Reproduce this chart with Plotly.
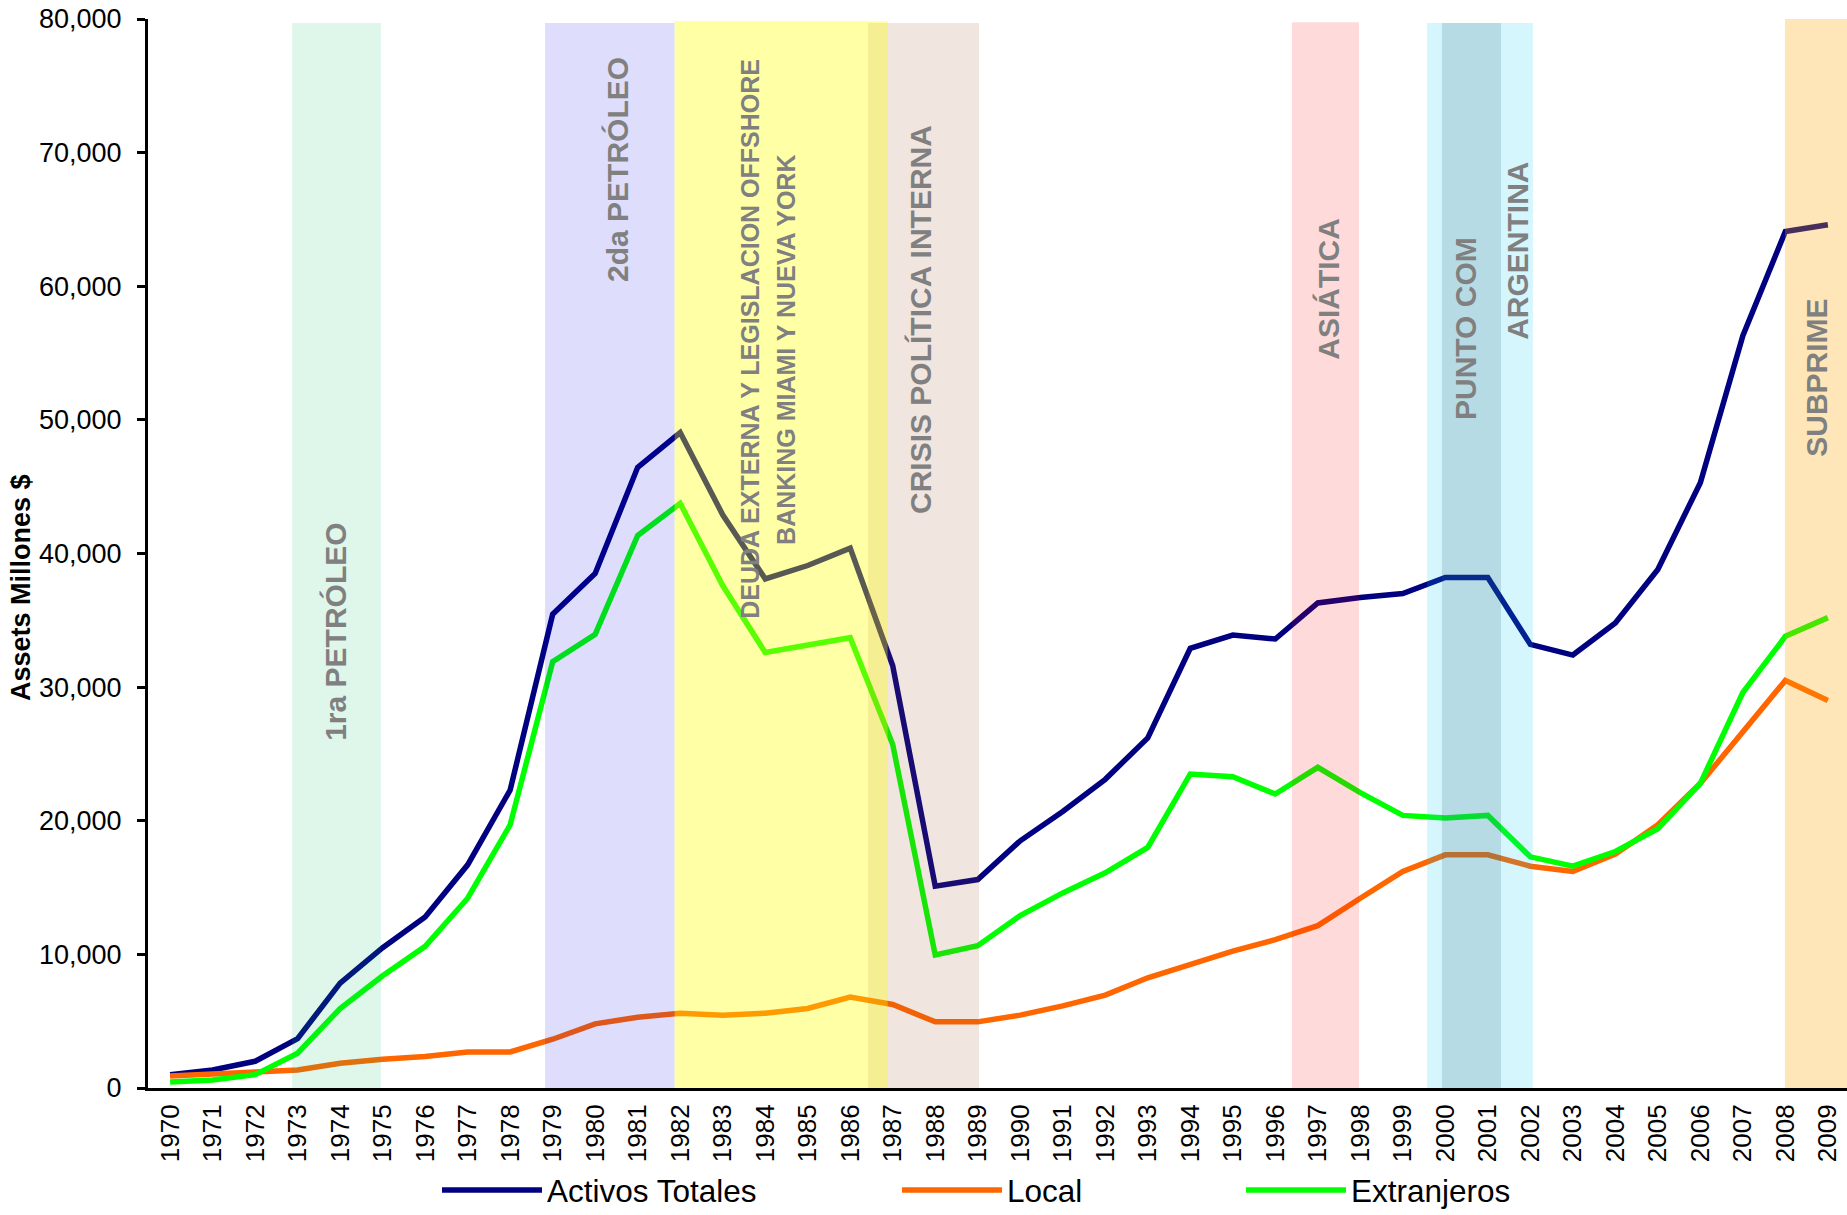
import plotly.graph_objects as go

# ---------------- data ----------------
years = list(range(1970, 2010))

activos_totales = [1000, 1350, 2000, 3700, 7850, 10500, 12800, 16700, 22300, 35450,
                   38500, 46450, 49050, 42900, 38100, 39100, 40400, 31600, 15100, 15600,
                   18500, 20700, 23100, 26200, 32900, 33900, 33600, 36300, 36700, 37000,
                   38200, 38200, 33200, 32400, 34800, 38800, 45300, 56300, 64100, 64600]

local = [900, 1000, 1200, 1350, 1850, 2150, 2350, 2700, 2700, 3650,
         4800, 5300, 5600, 5450, 5600, 5950, 6800, 6250, 4950, 4950,
         5450, 6150, 6950, 8250, 9300, 10250, 11100, 12150, 14200, 16200,
         17450, 17450, 16600, 16200, 17500, 19700, 22800, 26600, 30500, 29000]

extranjeros = [450, 600, 1000, 2600, 5950, 8400, 10600, 14200, 19700, 31900,
               33950, 41350, 43750, 37600, 32600, 33200, 33700, 25700, 9950, 10650,
               12900, 14600, 16100, 18000, 23500, 23300, 22000, 24000, 22100, 20400,
               20200, 20400, 17300, 16600, 17700, 19400, 22800, 29600, 33800, 35200]

series_names = ["Activos Totales", "Local", "Extranjeros"]
series_values = [activos_totales, local, extranjeros]
series_colors = ["#000080", "#FF6600", "#00FF00"]

# crisis episodes: (start year, end year, top value, fill)
band_x0 = [1972.87, 1978.82, 1986.42, 1981.87, 1996.39, 1999.57, 1999.92, 2007.99]
band_x1 = [1974.96, 1981.87, 1989.03, 1986.88, 1997.97, 2002.06, 2001.31, 2009.6]
band_top = [79700, 79700, 79700, 79850, 79750, 79700, 79700, 80000]
band_fill = ["rgba(9,186,101,0.13)", "rgba(0,0,230,0.13)", "rgba(160,82,45,0.15)",
             "rgba(255,255,0,0.35)", "rgba(255,0,0,0.145)", "rgba(0,200,240,0.17)",
             "rgba(40,90,110,0.17)", "rgba(255,165,0,0.28)"]

episode_labels = ["1ra PETRÓLEO", "2da PETRÓLEO", "DEUDA EXTERNA Y LEGISLACION OFFSHORE",
                  "BANKING MIAMI Y NUEVA YORK", "CRISIS POLÍTICA INTERNA", "ASIÁTICA",
                  "PUNTO COM", "ARGENTINA", "SUBPRIME"]
label_x = [1973.90, 1980.54, 1983.64, 1984.49, 1987.67, 1997.26, 2000.49, 2001.71, 2008.74]
label_y = [34130, 68710, 56060, 55240, 57490, 59800, 56810, 62650, 53140]
label_size = [30, 30, 25, 25, 30, 30, 30, 30, 30]

y_title = "Assets Millones $"

# ---------------- figure ----------------
W, H = 1847, 1215
ML, MR, MT, MB = 148, 0, 19, 127
FONT = "Arial, 'Liberation Sans', sans-serif"
plot_w = W - ML - MR
plot_h = H - MT - MB

legend_ids = ["legend", "legend2", "legend3"]
legend_px = [437, 897, 1241]   # left edge of each legend entry, in pixels

fig = go.Figure()
for name, vals, col, lid in zip(series_names, series_values, series_colors, legend_ids):
    fig.add_trace(go.Scatter(x=years, y=vals, name=name, mode="lines",
                             line=dict(color=col, width=5.5), legend=lid))

for x0, x1, top, fill in zip(band_x0, band_x1, band_top, band_fill):
    fig.add_shape(type="rect", xref="x", yref="y", x0=x0, x1=x1, y0=0, y1=top,
                  fillcolor=fill, line=dict(width=0), layer="above")

for txt, lx, ly, fs in zip(episode_labels, label_x, label_y, label_size):
    fig.add_annotation(x=lx, y=ly, xref="x", yref="y", text=f"<b>{txt}</b>",
                       textangle=-90, showarrow=False,
                       font=dict(family=FONT, size=fs, color="rgb(128,128,128)"))

fig.add_annotation(xref="paper", yref="paper", x=(21 - ML) / plot_w, y=(1088 - 588) / plot_h,
                   text=f"<b>{y_title}</b>", textangle=-90, showarrow=False,
                   xanchor="center", yanchor="middle",
                   font=dict(family=FONT, size=27, color="black"))

legend_common = dict(orientation="h", xanchor="left", yanchor="bottom",
                     y=(1088 - 1217) / plot_h, borderwidth=0,
                     font=dict(family=FONT, size=31.5, color="black"),
                     itemwidth=100, bgcolor="rgba(0,0,0,0)")
legend_layout = {lid: dict(legend_common, x=(px - ML) / plot_w)
                 for lid, px in zip(legend_ids, legend_px)}

fig.update_layout(
    width=W, height=H,
    margin=dict(l=ML, r=MR, t=MT, b=MB, pad=0, autoexpand=False),
    paper_bgcolor="white", plot_bgcolor="white",
    font=dict(family=FONT, color="black"),
    showlegend=True,
    xaxis=dict(range=[1969.48, 2009.45], tickmode="array", tickvals=years,
               ticktext=[str(y) for y in years], tickangle=-90, automargin=False,
               showgrid=False, zeroline=False, showline=True, linecolor="black",
               linewidth=3, ticks="", ticklabelstandoff=3,
               tickfont=dict(family=FONT, size=26, color="black")),
    yaxis=dict(range=[0, 80000], tickvals=list(range(0, 80001, 10000)),
               tickformat=",", showgrid=False, zeroline=False, showline=True,
               automargin=False,
               linecolor="black", linewidth=3, ticks="outside", ticklen=8,
               tickwidth=3, tickcolor="black", ticklabelstandoff=10,
               tickfont=dict(family=FONT, size=27, color="black")),
    **legend_layout,
)

fig.write_html("out.html", config={"displayModeBar": False},
               post_script="document.body.style.margin='0';document.body.style.overflow='hidden';")
